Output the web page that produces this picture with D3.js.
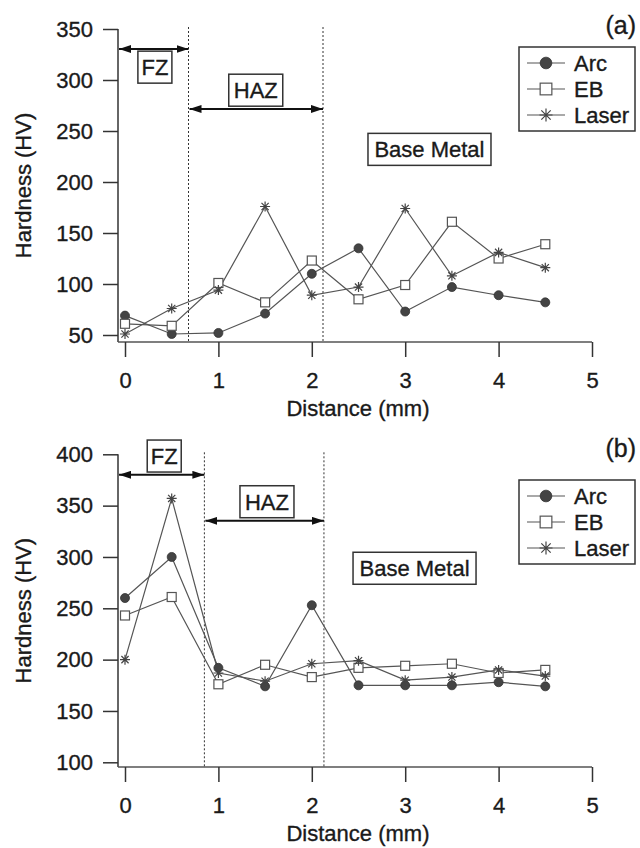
<!DOCTYPE html>
<html>
<head>
<meta charset="utf-8">
<script src="https://cdn.jsdelivr.net/npm/d3@7"></script>
<style>
  body { margin: 0; background: #fff; }
  text { font-family: "Liberation Sans", Arial, sans-serif; fill: #1a1a1a; stroke: #1a1a1a; stroke-width: 0.35px; }
</style>
</head>
<body>
<script>
// distance from weld centre (mm)
const distance = [0, 0.5, 1, 1.5, 2, 2.5, 3, 3.5, 4, 4.5];
const xTicks = [0, 1, 2, 3, 4, 5];

// (a) hardness, HV
const arcA = [69, 51, 52, 71, 110, 135, 73, 97, 89, 82];
const ebA = [61, 59, 101, 82, 123, 85, 99, 161, 125, 139];
const laserA = [51, 76, 94, 176, 89, 97, 174, 108, 131, 116];
const yTicksA = [50, 100, 150, 200, 250, 300, 350];
const zonesA = [0.68, 2.12];

// (b) hardness, HV
const arcB = [260, 300, 192, 174, 253, 175, 175, 175, 178, 174];
const ebB = [243, 261, 176, 195, 183, 192, 194, 196, 187, 190];
const laserB = [200, 357, 187, 179, 196, 199, 180, 183, 190, 184];
const yTicksB = [100, 150, 200, 250, 300, 350, 400];
const zonesB = [0.85, 2.13];

const seriesNames = ["Arc", "EB", "Laser"];

const svg = d3.select("body").append("svg")
    .attr("width", 640)
    .attr("height", 848);

const defs = svg.append("defs");
["arrowEnd", "arrowStart"].forEach(function(id, i) {
    defs.append("marker")
        .attr("id", id)
        .attr("viewBox", "0 0 12 8")
        .attr("refX", i == 0 ? 12 : 0)
        .attr("refY", 4)
        .attr("markerWidth", 12)
        .attr("markerHeight", 8)
        .attr("markerUnits", "userSpaceOnUse")
        .attr("orient", "auto")
        .append("path")
        .attr("d", i == 0 ? "M0,0 L12,4 L0,8 Z" : "M12,0 L0,4 L12,8 Z")
        .attr("fill", "#111");
});

const x = d3.scaleLinear().domain([0, 5]).range([125, 592]);

function drawMarker(g, name, cx, cy, big) {
    const s = big ? 1.3 : 1;
    if (name == "Arc") {
        g.append("circle").attr("cx", cx).attr("cy", cy).attr("r", 4.5 * s)
            .attr("fill", "#444").attr("stroke", "#333").attr("stroke-width", 0.8);
    } else if (name == "EB") {
        const h = 4.5 * s;
        g.append("rect").attr("x", cx - h).attr("y", cy - h)
            .attr("width", 2 * h).attr("height", 2 * h)
            .attr("fill", "#fff").attr("stroke", "#555").attr("stroke-width", 1.2);
    } else {
        const r = 5 * s, d = r * 0.72;
        g.append("path")
            .attr("d", "M" + (cx - r) + "," + cy + "H" + (cx + r) +
                "M" + cx + "," + (cy - r) + "V" + (cy + r) +
                "M" + (cx - d) + "," + (cy - d) + "L" + (cx + d) + "," + (cy + d) +
                "M" + (cx - d) + "," + (cy + d) + "L" + (cx + d) + "," + (cy - d))
            .attr("stroke", "#444").attr("stroke-width", 1.2).attr("fill", "none");
    }
}

function labelBox(g, txt, cx, cy, w) {
    g.append("rect").attr("x", cx - w / 2).attr("y", cy - 16)
        .attr("width", w).attr("height", 32)
        .attr("fill", "#fff").attr("stroke", "#333").attr("stroke-width", 1.5);
    g.append("text").attr("x", cx).attr("y", cy + 8)
        .attr("text-anchor", "middle").attr("font-size", 22).text(txt);
}

function drawPanel(p) {
    const g = svg.append("g");
    const y = d3.scaleLinear().domain(p.yDomain).range(p.yRange);
    const y0 = x.range()[0] - 7;

    // frame
    g.append("line").attr("x1", y0).attr("x2", y0)
        .attr("y1", y(p.yDomain[1])).attr("y2", p.axisY)
        .attr("stroke", "#333").attr("stroke-width", 1.5);
    g.append("line").attr("x1", y0).attr("x2", x(5))
        .attr("y1", p.axisY).attr("y2", p.axisY)
        .attr("stroke", "#555").attr("stroke-width", 1.5);

    const yAxis = g.append("g").attr("transform", "translate(" + y0 + ",0)")
        .call(d3.axisLeft(y).tickValues(p.yTicks).tickSize(15).tickPadding(10).tickSizeOuter(0));
    const xAxis = g.append("g").attr("transform", "translate(0," + p.axisY + ")")
        .call(d3.axisBottom(x).tickValues(xTicks).tickFormat(d3.format("d"))
            .tickSize(15).tickPadding(15).tickSizeOuter(0));
    [yAxis, xAxis].forEach(function(a) {
        a.select(".domain").remove();
        a.selectAll(".tick line").attr("stroke", "#333").attr("stroke-width", 1.5);
        a.selectAll(".tick text").attr("font-size", 22).attr("font-family", null).attr("fill", "#1a1a1a");
    });

    // axis titles
    g.append("text")
        .attr("transform", "translate(31," + ((y(p.yDomain[1]) + p.axisY) / 2) + ") rotate(-90)")
        .attr("text-anchor", "middle").attr("font-size", 22).text("Hardness (HV)");
    g.append("text").attr("x", 358).attr("y", p.axisY + 74)
        .attr("text-anchor", "middle").attr("font-size", 22).text("Distance (mm)");

    // zone boundaries
    p.zones.forEach(function(z) {
        g.append("line").attr("x1", x(z)).attr("x2", x(z))
            .attr("y1", y(p.yDomain[1]) - 2).attr("y2", p.axisY)
            .attr("stroke", "#333").attr("stroke-width", 1).attr("stroke-dasharray", "2,2");
    });

    // zone arrows
    g.append("line").attr("x1", y0 + 1).attr("x2", x(p.zones[0]))
        .attr("y1", y(p.fzArrow)).attr("y2", y(p.fzArrow))
        .attr("stroke", "#111").attr("stroke-width", 2)
        .attr("marker-start", "url(#arrowStart)").attr("marker-end", "url(#arrowEnd)");
    g.append("line").attr("x1", x(p.zones[0]) + 1).attr("x2", x(p.zones[1]))
        .attr("y1", y(p.hazArrow)).attr("y2", y(p.hazArrow))
        .attr("stroke", "#111").attr("stroke-width", 2)
        .attr("marker-start", "url(#arrowStart)").attr("marker-end", "url(#arrowEnd)");

    labelBox(g, "FZ", x(p.fzBox[0]), y(p.fzBox[1]), 34);
    labelBox(g, "HAZ", x(p.hazBox[0]), y(p.hazBox[1]), 54);
    labelBox(g, "Base Metal", x(p.baseBox[0]), y(p.baseBox[1]), 123);

    // series
    const line = d3.line().x(function(d) { return x(d[0]); }).y(function(d) { return y(d[1]); });
    p.series.forEach(function(vals) {
        g.append("path").datum(d3.zip(distance, vals))
            .attr("d", line).attr("fill", "none")
            .attr("stroke", "#555").attr("stroke-width", 1.2);
    });
    p.series.forEach(function(vals, i) {
        distance.forEach(function(d, j) {
            drawMarker(g, seriesNames[i], x(d), y(vals[j]), false);
        });
    });

    // legend
    const lg = g.append("g").attr("transform", "translate(519," + p.legendTop + ")");
    lg.append("rect").attr("width", 116).attr("height", 84)
        .attr("fill", "#fff").attr("stroke", "#333").attr("stroke-width", 1.5);
    seriesNames.forEach(function(name, i) {
        const ly = 16 + i * 26;
        lg.append("line").attr("x1", 8).attr("x2", 46).attr("y1", ly).attr("y2", ly)
            .attr("stroke", "#555").attr("stroke-width", 1.2);
        drawMarker(lg, name, 27, ly, true);
        lg.append("text").attr("x", 55).attr("y", ly + 8).attr("font-size", 22).text(name);
    });

    g.append("text").attr("x", 636).attr("y", p.tagY)
        .attr("text-anchor", "end").attr("font-size", 25).text(p.tag);
}

drawPanel({
    tag: "(a)", tagY: 34,
    yDomain: [50, 350], yRange: [335, 29], axisY: 342, yTicks: yTicksA,
    series: [arcA, ebA, laserA], zones: zonesA,
    fzArrow: 330.4, hazArrow: 271.6,
    fzBox: [0.32, 312.6], hazBox: [1.40, 290], baseBox: [3.26, 232],
    legendTop: 47
});

drawPanel({
    tag: "(b)", tagY: 457,
    yDomain: [100, 400], yRange: [762.3, 454.3], axisY: 767, yTicks: yTicksB,
    series: [arcB, ebB, laserB], zones: zonesB,
    fzArrow: 380, hazArrow: 335.2,
    fzBox: [0.42, 398.3], hazBox: [1.52, 353.8], baseBox: [3.10, 289],
    legendTop: 480
});
</script>
</body>
</html>
